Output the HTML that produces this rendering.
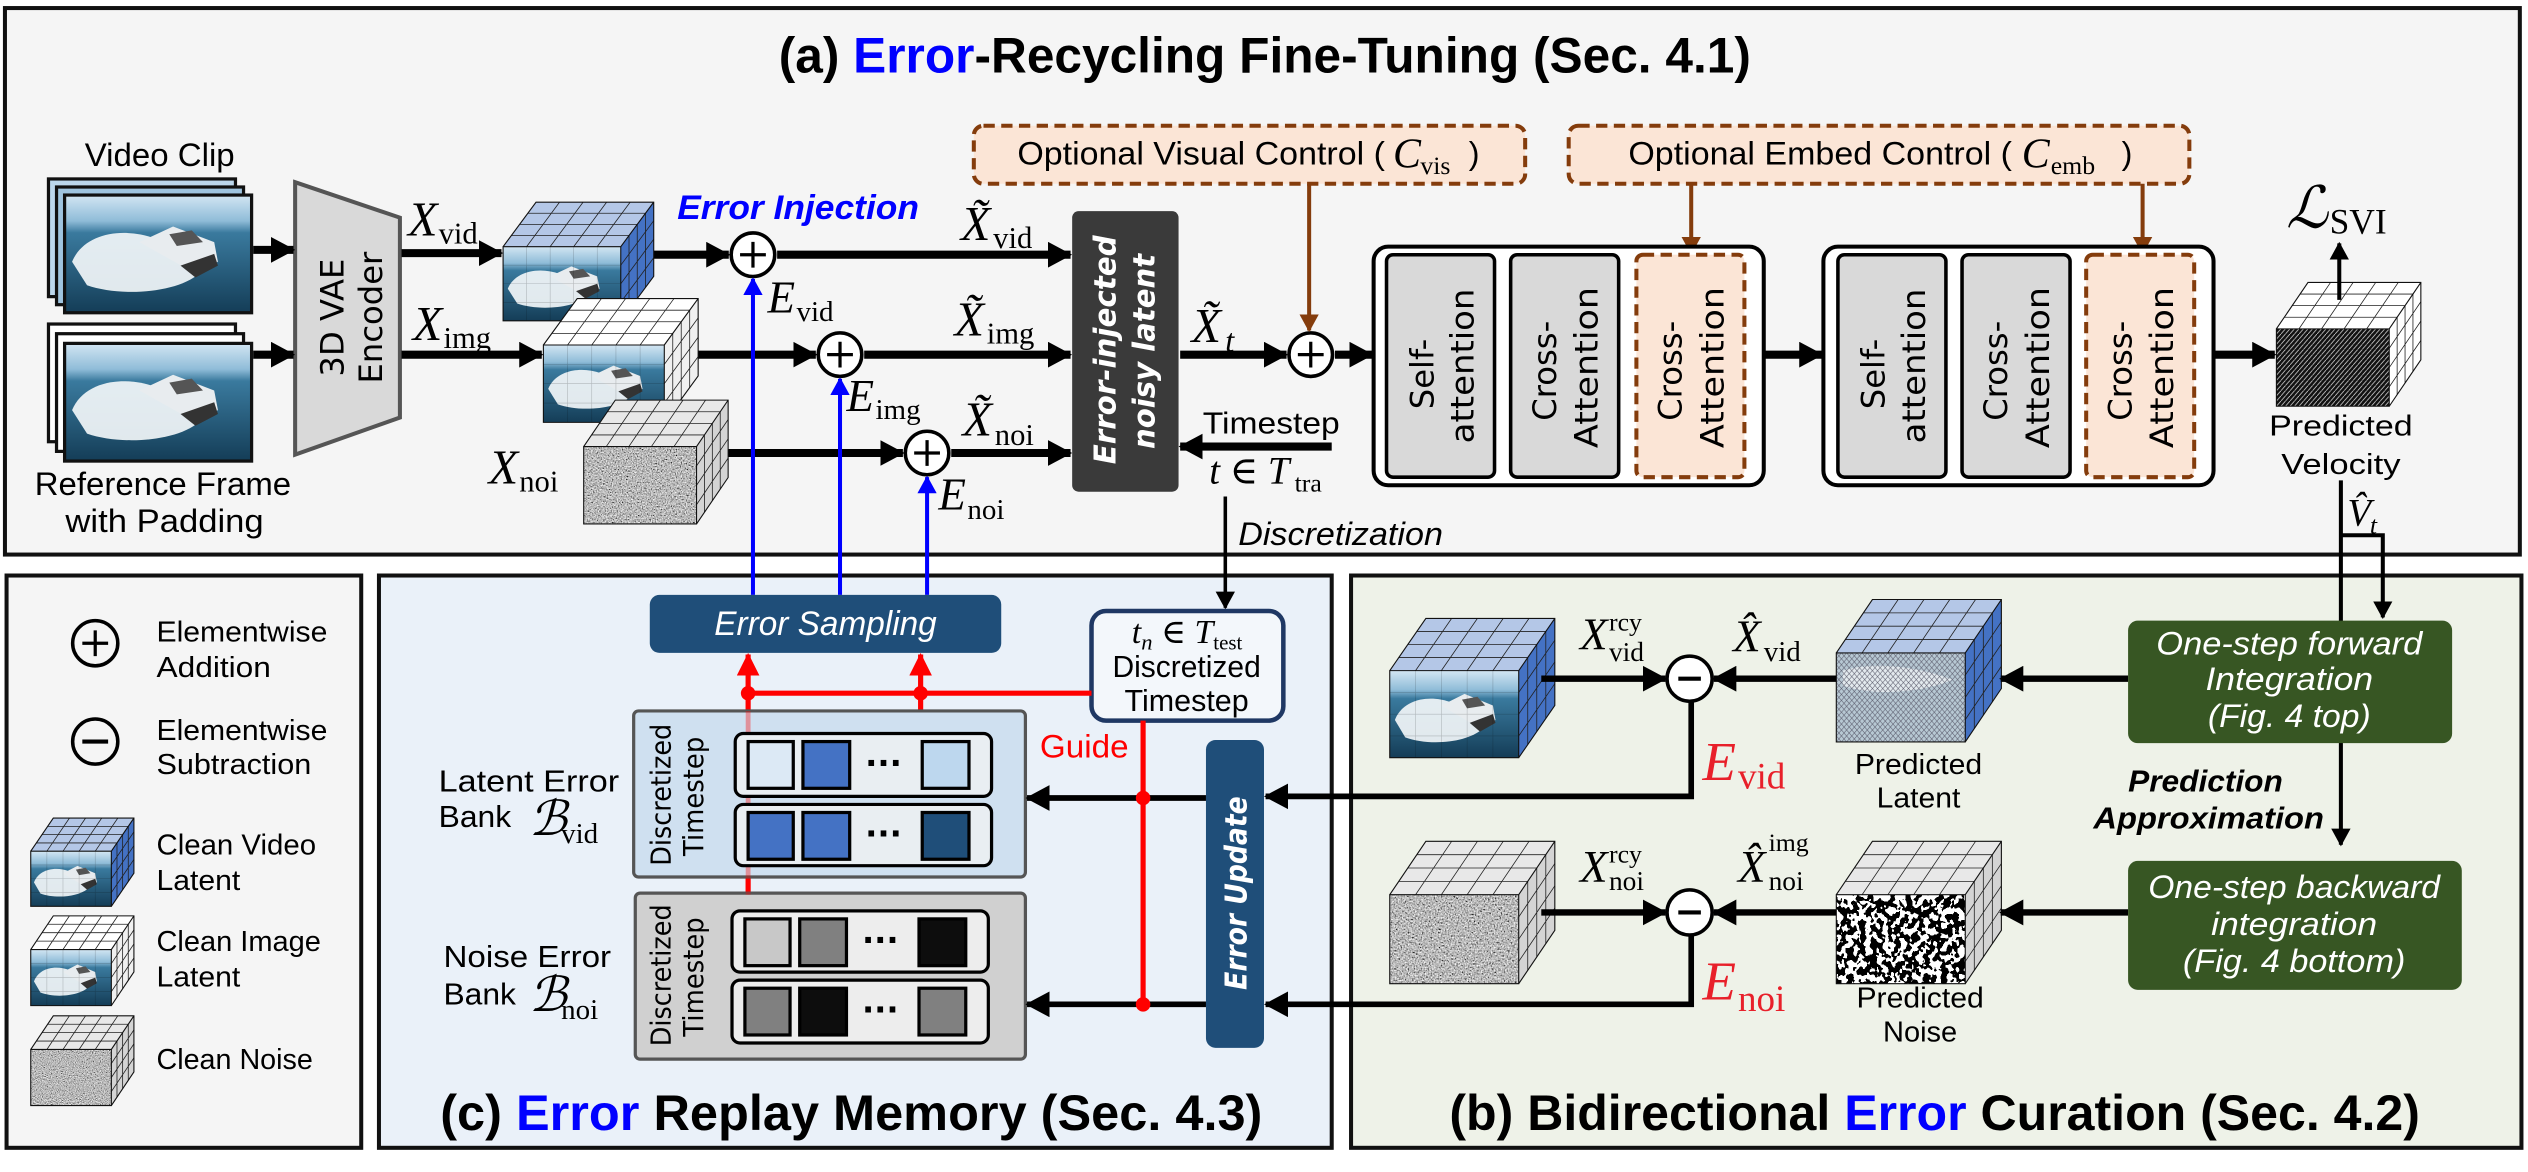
<!DOCTYPE html>
<html><head><meta charset="utf-8"><style>
html,body{margin:0;padding:0;background:#fff}
svg{display:block}
.n{font-family:"Liberation Sans Narrow","Liberation Sans",sans-serif}
.m{font-family:"Liberation Serif","DejaVu Serif",serif;font-style:italic}
.r{font-family:"Liberation Serif","DejaVu Serif",serif}
.d{font-family:"DejaVu Sans","Liberation Sans",sans-serif}
</style></head><body>
<svg width="2528" height="1172" viewBox="0 0 1568 727" xmlns="http://www.w3.org/2000/svg">
<defs>
<marker id="ab" markerUnits="userSpaceOnUse" markerWidth="15" markerHeight="16" refX="14" refY="8" orient="auto"><path d="M0,0 L15,8 L0,16 Z" fill="#000"/></marker>
<marker id="as" markerUnits="userSpaceOnUse" markerWidth="11" markerHeight="12" refX="10" refY="6" orient="auto"><path d="M0,0 L11,6 L0,12 Z" fill="#000"/></marker>
<marker id="abr" markerUnits="userSpaceOnUse" markerWidth="11" markerHeight="12" refX="10" refY="6" orient="auto"><path d="M0,0 L11,6 L0,12 Z" fill="#843c0c"/></marker>
<marker id="abl" markerUnits="userSpaceOnUse" markerWidth="11" markerHeight="12" refX="10" refY="6" orient="auto"><path d="M0,0 L11,6 L0,12 Z" fill="#0000ff"/></marker>
<marker id="ard" markerUnits="userSpaceOnUse" markerWidth="14" markerHeight="14" refX="13" refY="7" orient="auto"><path d="M0,0 L14,7 L0,14 Z" fill="#f00"/></marker>
<linearGradient id="sea" x1="0" y1="0" x2="0" y2="1">
<stop offset="0" stop-color="#d3e6f3"/><stop offset="0.22" stop-color="#8fbcd8"/><stop offset="0.32" stop-color="#3a7a9e"/><stop offset="1" stop-color="#143d57"/></linearGradient>
<symbol id="boat" viewBox="0 0 100 60" preserveAspectRatio="none">
<rect width="100" height="60" fill="url(#sea)"/>
<path d="M4,34 C10,20 30,16 48,22 L72,40 C60,50 30,52 12,46 Z" fill="#f2f6f8" opacity="0.92"/>
<path d="M40,24 L58,16 L80,24 L82,34 L70,40 Z" fill="#e8ecef"/>
<path d="M56,20 L68,18 L74,24 L60,26 Z" fill="#555"/>
<path d="M62,36 L80,30 L82,36 L70,42 Z" fill="#333"/>
</symbol>
<filter id="nz" x="0" y="0" width="1" height="1"><feTurbulence type="fractalNoise" baseFrequency="0.9" numOctaves="2" seed="4"/><feColorMatrix type="matrix" values="0.33 0.33 0.33 0 0 0.33 0.33 0.33 0 0 0.33 0.33 0.33 0 0 0 0 0 0 1"/><feComponentTransfer><feFuncR type="linear" slope="2.6" intercept="-0.8"/><feFuncG type="linear" slope="2.6" intercept="-0.8"/><feFuncB type="linear" slope="2.6" intercept="-0.8"/></feComponentTransfer></filter>
<filter id="bl" x="0" y="0" width="1" height="1"><feTurbulence type="fractalNoise" baseFrequency="0.22" numOctaves="2" seed="7"/><feColorMatrix type="matrix" values="0.33 0.33 0.33 0 0 0.33 0.33 0.33 0 0 0.33 0.33 0.33 0 0 0 0 0 0 1"/><feComponentTransfer><feFuncR type="discrete" tableValues="0 1"/><feFuncG type="discrete" tableValues="0 1"/><feFuncB type="discrete" tableValues="0 1"/></feComponentTransfer></filter>
<pattern id="hatch" patternUnits="userSpaceOnUse" width="4" height="4"><rect width="4" height="4" fill="#111"/><path d="M-1,5 L5,-1" stroke="#ddd" stroke-width="0.6"/></pattern>
<pattern id="xh" patternUnits="userSpaceOnUse" width="4" height="4"><path d="M0,0 L4,4 M4,0 L0,4" stroke="#556" stroke-width="0.4"/></pattern>
<g id="gts">
<path d="M20,0 L48,-36 M40,0 L68,-36 M60,0 L88,-36 M80,0 L108,-36 M7,-9 H107 M14,-18 H114 M21,-27 H121 M107,-9 V51 M114,-18 V42 M121,-27 V33 M100,15 L128,-21 M100,30 L128,-6 M100,45 L128,9" fill="none" stroke="#222" stroke-width="0.8" vector-effect="non-scaling-stroke"/>
<path d="M0,0 H100 V60 H0 Z M0,0 L28,-36 H128 V24 L100,60 M100,0 L128,-36" fill="none" stroke="#111" stroke-width="1.1" vector-effect="non-scaling-stroke"/>
</g>
<path id="gf" d="M20,0 V60 M40,0V60 M60,0V60 M80,0V60 M0,15H100 M0,30H100 M0,45H100" fill="none" stroke="rgba(0,0,0,0.22)" stroke-width="0.6" vector-effect="non-scaling-stroke"/>
<polygon id="ctop" points="0,0 100,0 128,-36 28,-36"/>
<polygon id="cside" points="100,0 128,-36 128,24 100,60"/>
</defs>

<rect width="1568" height="727" fill="#fff"/>
<rect x="3" y="5" width="1560" height="339" fill="#f5f5f5" stroke="#111" stroke-width="2.5"/>
<rect x="4" y="357" width="220" height="355" fill="#f5f5f5" stroke="#111" stroke-width="2.5"/>
<rect x="235" y="357" width="591" height="355" fill="#eaf1f9" stroke="#111" stroke-width="2.5"/>
<rect x="838" y="357" width="726" height="355" fill="#eef2e8" stroke="#111" stroke-width="2.5"/>

<text x="483" y="45" font-size="31" font-weight="bold" class="n" textLength="603" lengthAdjust="spacingAndGlyphs">(a) <tspan fill="#0000ff">Error</tspan>-Recycling Fine-Tuning (Sec. 4.1)</text>

<text x="99" y="103" font-size="20" class="n" text-anchor="middle" textLength="93" lengthAdjust="spacingAndGlyphs">Video Clip</text>
<rect x="30" y="111" width="116" height="73" fill="#bcd7ec" stroke="#111" stroke-width="2"/>
<rect x="35" y="116" width="116" height="73" fill="#9fc4df" stroke="#111" stroke-width="2"/>
<use href="#boat" x="40" y="121" width="116" height="73"/>
<rect x="40" y="121" width="116" height="73" fill="none" stroke="#111" stroke-width="2"/>
<rect x="30" y="201" width="116" height="73" fill="#fff" stroke="#111" stroke-width="2"/>
<rect x="35" y="207" width="116" height="73" fill="#fff" stroke="#111" stroke-width="2"/>
<use href="#boat" x="40" y="213" width="116" height="73"/>
<rect x="40" y="213" width="116" height="73" fill="none" stroke="#111" stroke-width="2"/>
<text x="101" y="307" font-size="20" class="n" text-anchor="middle" textLength="159" lengthAdjust="spacingAndGlyphs">Reference Frame</text>
<text x="102" y="330" font-size="20" class="n" text-anchor="middle" textLength="123" lengthAdjust="spacingAndGlyphs">with Padding</text>

<polygon points="183,113 248,135 248,259 183,282" fill="#d9d9d9" stroke="#555" stroke-width="2.5"/>
<text transform="translate(213,197) rotate(-90)" font-size="20" class="d" text-anchor="middle">3D VAE</text>
<text transform="translate(237,197) rotate(-90)" font-size="20" class="d" text-anchor="middle">Encoder</text>

<g stroke="#000" stroke-width="5" fill="none">
<path d="M157,155 H182" marker-end="url(#ab)"/>
<path d="M157,220 H182" marker-end="url(#ab)"/>
<path d="M249,157 H311" marker-end="url(#ab)"/>
<path d="M249,220 H336" marker-end="url(#ab)"/>
<path d="M388,158 H452" marker-end="url(#ab)"/>
<path d="M482,158 H664" marker-end="url(#ab)"/>
<path d="M418,220 H506" marker-end="url(#ab)"/>
<path d="M536,220 H664" marker-end="url(#ab)"/>
<path d="M442,281 H560" marker-end="url(#ab)"/>
<path d="M590,281 H664" marker-end="url(#ab)"/>
<path d="M732,220 H798" marker-end="url(#ab)"/>
<path d="M828,220 H851" marker-end="url(#ab)"/>
<path d="M826,277 H732" marker-end="url(#ab)"/>
<path d="M1095,220 H1130" marker-end="url(#ab)"/>
<path d="M1374,220 H1411" marker-end="url(#ab)"/>
</g>

<g transform="translate(312,153) scale(0.73,0.767)">
<use href="#ctop" fill="#b4c7e7"/><use href="#cside" fill="#4472c4"/>
<use href="#boat" x="0" y="0" width="100" height="60"/><use href="#gf"/><use href="#gts"/></g>
<g transform="translate(337,214) scale(0.75,0.8)">
<use href="#ctop" fill="#fff"/><use href="#cside" fill="#f0f0f0"/>
<use href="#boat" x="0" y="0" width="100" height="60"/><use href="#gf"/><use href="#gts"/></g>
<g transform="translate(362,277) scale(0.7,0.8)">
<use href="#ctop" fill="#e8e8e8"/><use href="#cside" fill="#d4d4d4"/>
<rect width="100" height="60" filter="url(#nz)"/><use href="#gts"/></g>

<text x="420" y="136" font-size="21" font-weight="bold" font-style="italic" fill="#0000ff" class="n" textLength="150" lengthAdjust="spacingAndGlyphs">Error Injection</text>
<text x="253" y="146" font-size="30" class="m">X</text><text x="272" y="151" font-size="19" class="r">vid</text>
<text x="256" y="211" font-size="30" class="m">X</text><text x="275" y="216" font-size="19" class="r">img</text>
<text x="303" y="300" font-size="30" class="m">X</text><text x="322" y="305" font-size="19" class="r">noi</text>
<text x="476" y="194" font-size="28" class="m">E</text><text x="494" y="199" font-size="18" class="r">vid</text>
<text x="525" y="255" font-size="28" class="m">E</text><text x="543" y="260" font-size="18" class="r">img</text>
<text x="582" y="316" font-size="28" class="m">E</text><text x="600" y="322" font-size="18" class="r">noi</text>
<text x="596" y="149" font-size="30" class="m">X̃</text><text x="616" y="154" font-size="19" class="r">vid</text>
<text x="592" y="208" font-size="30" class="m">X̃</text><text x="612" y="213" font-size="19" class="r">img</text>
<text x="597" y="270" font-size="30" class="m">X̃</text><text x="617" y="276" font-size="19" class="r">noi</text>
<text x="739" y="212" font-size="30" class="m">X̃</text><text x="760" y="218" font-size="20" class="m">t</text>
<text x="746" y="269" font-size="19" class="n" textLength="85" lengthAdjust="spacingAndGlyphs">Timestep</text>
<text x="750" y="300" font-size="24" class="m">t <tspan class="r" font-style="normal">∈</tspan> <tspan>T</tspan></text><text x="803" y="305" font-size="16" class="r">tra</text>
<text x="768" y="338" font-size="20" font-style="italic" class="n" textLength="127" lengthAdjust="spacingAndGlyphs">Discretization</text>

<g fill="#fff" stroke="#000" stroke-width="2.2">
<circle cx="467" cy="158" r="13.5"/><circle cx="521" cy="220" r="13.5"/><circle cx="575" cy="281" r="13.5"/><circle cx="813" cy="220" r="13.5"/>
</g>
<g stroke="#000" stroke-width="2">
<path d="M459,158 H475 M467,150 V166"/><path d="M513,220 H529 M521,212 V228"/><path d="M567,281 H583 M575,273 V289"/><path d="M805,220 H821 M813,212 V228"/>
</g>

<rect x="665" y="131" width="66" height="174" rx="4" fill="#3a3a3a"/>
<text transform="translate(692,217) rotate(-90)" font-size="19" font-weight="bold" font-style="italic" fill="#fff" class="d" text-anchor="middle" textLength="142" lengthAdjust="spacingAndGlyphs">Error-injected</text>
<text transform="translate(716,218) rotate(-90)" font-size="19" font-weight="bold" font-style="italic" fill="#fff" class="d" text-anchor="middle" textLength="121" lengthAdjust="spacingAndGlyphs">noisy latent</text>

<rect x="604" y="78" width="342" height="36" rx="6" fill="#fbe5d6" stroke="#843c0c" stroke-width="2.5" stroke-dasharray="7,4"/>
<text x="631" y="102" font-size="20" class="n" textLength="228" lengthAdjust="spacingAndGlyphs">Optional Visual Control (</text>
<text x="864" y="104" font-size="26" class="m">C</text><text x="881" y="108" font-size="16" class="r">vis</text><text x="911" y="102" font-size="20" class="n">)</text>
<rect x="973" y="78" width="385" height="36" rx="6" fill="#fbe5d6" stroke="#843c0c" stroke-width="2.5" stroke-dasharray="7,4"/>
<text x="1010" y="102" font-size="20" class="n" textLength="238" lengthAdjust="spacingAndGlyphs">Optional Embed Control (</text>
<text x="1254" y="104" font-size="26" class="m">C</text><text x="1272" y="108" font-size="16" class="r">emb</text><text x="1316" y="102" font-size="20" class="n">)</text>
<g stroke="#843c0c" stroke-width="2.5" fill="none">
<path d="M812,114 V205" marker-end="url(#abr)"/>
<path d="M1049,114 V157" marker-end="url(#abr)"/>
<path d="M1329,114 V157" marker-end="url(#abr)"/>
</g>

<g>
<rect x="852" y="153" width="242" height="148" rx="9" fill="#fff" stroke="#000" stroke-width="2.5"/>
<rect x="860" y="158" width="67" height="138" rx="4" fill="#d9d9d9" stroke="#000" stroke-width="2.2"/>
<rect x="937" y="158" width="67" height="138" rx="4" fill="#d9d9d9" stroke="#000" stroke-width="2.2"/>
<rect x="1015" y="158" width="67" height="138" rx="4" fill="#fbe5d6" stroke="#843c0c" stroke-width="2.5" stroke-dasharray="7,4"/>
<rect x="1131" y="153" width="242" height="148" rx="9" fill="#fff" stroke="#000" stroke-width="2.5"/>
<rect x="1140" y="158" width="67" height="138" rx="4" fill="#d9d9d9" stroke="#000" stroke-width="2.2"/>
<rect x="1217" y="158" width="67" height="138" rx="4" fill="#d9d9d9" stroke="#000" stroke-width="2.2"/>
<rect x="1294" y="158" width="67" height="138" rx="4" fill="#fbe5d6" stroke="#843c0c" stroke-width="2.5" stroke-dasharray="7,4"/>
</g>
<g font-size="20" class="d" text-anchor="middle">
<text transform="translate(889,232) rotate(-90)">Self-</text>
<text transform="translate(914,227) rotate(-90)" textLength="96" lengthAdjust="spacingAndGlyphs">attention</text>
<text transform="translate(965,230) rotate(-90)">Cross-</text>
<text transform="translate(991,228) rotate(-90)" textLength="100" lengthAdjust="spacingAndGlyphs">Attention</text>
<text transform="translate(1043,230) rotate(-90)">Cross-</text>
<text transform="translate(1069,228) rotate(-90)" textLength="100" lengthAdjust="spacingAndGlyphs">Attention</text>
<text transform="translate(1169,232) rotate(-90)">Self-</text>
<text transform="translate(1194,227) rotate(-90)" textLength="96" lengthAdjust="spacingAndGlyphs">attention</text>
<text transform="translate(1245,230) rotate(-90)">Cross-</text>
<text transform="translate(1271,228) rotate(-90)" textLength="100" lengthAdjust="spacingAndGlyphs">Attention</text>
<text transform="translate(1322,230) rotate(-90)">Cross-</text>
<text transform="translate(1348,228) rotate(-90)" textLength="100" lengthAdjust="spacingAndGlyphs">Attention</text>
</g>

<g transform="translate(1412,204) scale(0.7,0.8)">
<use href="#ctop" fill="#fff"/><use href="#cside" fill="#fff"/>
<rect width="100" height="60" fill="url(#hatch)"/><use href="#gts"/></g>
<path d="M1451,186 V151" stroke="#000" stroke-width="2.5" marker-end="url(#as)"/>
<text x="1418" y="141" font-size="36" class="m">ℒ</text><text x="1445" y="145" font-size="22" class="r">SVI</text>
<text x="1452" y="270" font-size="18" class="n" text-anchor="middle" textLength="89" lengthAdjust="spacingAndGlyphs">Predicted</text>
<text x="1452" y="294" font-size="18" class="n" text-anchor="middle" textLength="74" lengthAdjust="spacingAndGlyphs">Velocity</text>
<text x="1456" y="326" font-size="24" class="m">V̂</text><text x="1470" y="331" font-size="16" class="m">t</text>

<path d="M1452,298 V524" stroke="#000" stroke-width="2.5" fill="none" marker-end="url(#as)"/>
<path d="M1452,332 H1478 V383" stroke="#000" stroke-width="2.5" fill="none" marker-end="url(#as)"/>

<circle cx="59" cy="399" r="14" fill="none" stroke="#000" stroke-width="2.2"/><path d="M51,399 H67 M59,391 V407" stroke="#000" stroke-width="2"/>
<circle cx="59" cy="460" r="14" fill="none" stroke="#000" stroke-width="2.2"/><path d="M51,460 H67" stroke="#000" stroke-width="2.5"/>
<g font-size="18" class="n" lengthAdjust="spacingAndGlyphs">
<text x="97" y="398" textLength="106" lengthAdjust="spacingAndGlyphs">Elementwise</text><text x="97" y="420" textLength="71" lengthAdjust="spacingAndGlyphs">Addition</text>
<text x="97" y="459" textLength="106" lengthAdjust="spacingAndGlyphs">Elementwise</text><text x="97" y="480" textLength="96" lengthAdjust="spacingAndGlyphs">Subtraction</text>
<text x="97" y="530" textLength="99" lengthAdjust="spacingAndGlyphs">Clean Video</text><text x="97" y="552" textLength="52" lengthAdjust="spacingAndGlyphs">Latent</text>
<text x="97" y="590" textLength="102" lengthAdjust="spacingAndGlyphs">Clean Image</text><text x="97" y="612" textLength="52" lengthAdjust="spacingAndGlyphs">Latent</text>
<text x="97" y="663" textLength="97" lengthAdjust="spacingAndGlyphs">Clean Noise</text>
</g>
<g transform="translate(19,528) scale(0.5,0.57)">
<use href="#ctop" fill="#b4c7e7"/><use href="#cside" fill="#4472c4"/>
<use href="#boat" x="0" y="0" width="100" height="60"/><use href="#gf"/><use href="#gts"/></g>
<g transform="translate(19,589) scale(0.5,0.58)">
<use href="#ctop" fill="#fff"/><use href="#cside" fill="#f0f0f0"/>
<use href="#boat" x="0" y="0" width="100" height="60"/><use href="#gf"/><use href="#gts"/></g>
<g transform="translate(19,651) scale(0.5,0.58)">
<use href="#ctop" fill="#e8e8e8"/><use href="#cside" fill="#d4d4d4"/>
<rect width="100" height="60" filter="url(#nz)"/><use href="#gts"/></g>

<g stroke="#0000ff" stroke-width="2.5" fill="none">
<path d="M467,369 V173" marker-end="url(#abl)"/>
<path d="M521,369 V235" marker-end="url(#abl)"/>
<path d="M575,369 V296" marker-end="url(#abl)"/>
</g>
<rect x="403" y="369" width="218" height="36" rx="6" fill="#1f4e79"/>
<text x="512" y="394" font-size="21" font-style="italic" fill="#fff" class="n" text-anchor="middle" textLength="138" lengthAdjust="spacingAndGlyphs">Error Sampling</text>
<path d="M760,308 V377" stroke="#000" stroke-width="2.2" marker-end="url(#as)"/>
<rect x="677" y="379" width="119" height="68" rx="9" fill="#f3f7fb" stroke="#1f3864" stroke-width="2.8"/>
<text x="702" y="399" font-size="21" class="m">t<tspan font-size="14" dy="4">n</tspan><tspan dy="-4" class="r" font-style="normal"> ∈ </tspan>T<tspan font-size="13" dy="4" class="r" font-style="normal">test</tspan></text>
<text x="736" y="420" font-size="19" class="n" text-anchor="middle" textLength="92" lengthAdjust="spacingAndGlyphs">Discretized</text>
<text x="736" y="441" font-size="19" class="n" text-anchor="middle" textLength="77" lengthAdjust="spacingAndGlyphs">Timestep</text>

<g stroke="#f00" stroke-width="3.2" fill="none">
<path d="M677,430 H464"/>
<path d="M464,555 V406" marker-end="url(#ard)"/>
<path d="M571,441 V406" marker-end="url(#ard)"/>
<path d="M709,447 V623"/>
</g>

<rect x="393" y="441" width="243" height="103" rx="3" fill="#cfe0f0" stroke="#555" stroke-width="2"/>
<rect x="394" y="554" width="242" height="103" rx="3" fill="#d0d0d0" stroke="#555" stroke-width="2"/>
<path d="M464,441 V555" stroke="#f00" stroke-width="3" opacity="0.35"/>
<g font-size="17" class="d" text-anchor="middle">
<text transform="translate(416,493) rotate(-90)" textLength="88" lengthAdjust="spacingAndGlyphs">Discretized</text>
<text transform="translate(436,494) rotate(-90)" textLength="74" lengthAdjust="spacingAndGlyphs">Timestep</text>
<text transform="translate(416,605) rotate(-90)" textLength="88" lengthAdjust="spacingAndGlyphs">Discretized</text>
<text transform="translate(436,606) rotate(-90)" textLength="74" lengthAdjust="spacingAndGlyphs">Timestep</text>
</g>
<g stroke="#000" stroke-width="2">
<rect x="456" y="455" width="159" height="39" rx="5" fill="#e9eef2"/>
<rect x="456" y="499" width="159" height="38" rx="5" fill="#e9eef2"/>
<rect x="464" y="460" width="28" height="29" fill="#dce9f5"/><rect x="498" y="460" width="29" height="29" fill="#4472c4"/><rect x="572" y="460" width="29" height="29" fill="#bdd7ee"/>
<rect x="464" y="504" width="28" height="29" fill="#4472c4"/><rect x="498" y="504" width="29" height="29" fill="#4472c4"/><rect x="572" y="504" width="29" height="29" fill="#1f4e79"/>
<rect x="454" y="565" width="159" height="38" rx="5" fill="#ededed"/>
<rect x="454" y="608" width="159" height="39" rx="5" fill="#ededed"/>
<rect x="462" y="570" width="28" height="29" fill="#c8c8c8"/><rect x="496" y="570" width="29" height="29" fill="#808080"/><rect x="570" y="570" width="29" height="29" fill="#0d0d0d"/>
<rect x="462" y="613" width="28" height="29" fill="#808080"/><rect x="496" y="613" width="29" height="29" fill="#0d0d0d"/><rect x="570" y="613" width="29" height="29" fill="#808080"/>
</g>
<g font-size="20" font-weight="bold" text-anchor="middle" class="d">
<text x="548" y="480">···</text><text x="548" y="524">···</text><text x="546" y="590">···</text><text x="546" y="633">···</text>
</g>
<g font-size="19" class="n">
<text x="272" y="491" textLength="112" lengthAdjust="spacingAndGlyphs">Latent Error</text><text x="272" y="513" textLength="45" lengthAdjust="spacingAndGlyphs">Bank</text>
<text x="275" y="600" textLength="104" lengthAdjust="spacingAndGlyphs">Noise Error</text><text x="275" y="623" textLength="45" lengthAdjust="spacingAndGlyphs">Bank</text>
</g>
<text x="328" y="518" font-size="30" class="m">ℬ</text><text x="348" y="523" font-size="18" class="r">vid</text>
<text x="328" y="627" font-size="30" class="m">ℬ</text><text x="348" y="632" font-size="18" class="r">noi</text>
<text x="645" y="470" font-size="20" fill="#f00" class="n" textLength="55" lengthAdjust="spacingAndGlyphs">Guide</text>

<rect x="748" y="459" width="36" height="191" rx="6" fill="#1f4e79"/>
<text transform="translate(773,554) rotate(-90)" font-size="19" font-weight="bold" font-style="italic" fill="#fff" class="d" text-anchor="middle" textLength="120" lengthAdjust="spacingAndGlyphs">Error Update</text>

<g stroke="#000" stroke-width="3.5" fill="none">
<path d="M748,495 H637" marker-end="url(#ab)"/>
<path d="M748,623 H637" marker-end="url(#ab)"/>
<path d="M1049,435 V494 H785" marker-end="url(#ab)"/>
<path d="M1049,580 V623 H785" marker-end="url(#ab)"/>
</g>
<g fill="#f00"><circle cx="464" cy="430" r="4.5"/><circle cx="571" cy="430" r="4.5"/><circle cx="709" cy="495" r="4.5"/><circle cx="709" cy="623" r="4.5"/></g>

<text x="273" y="701" font-size="31" font-weight="bold" class="n" textLength="510" lengthAdjust="spacingAndGlyphs">(c) <tspan fill="#0000ff">Error</tspan> Replay Memory (Sec. 4.3)</text>

<g transform="translate(862,416) scale(0.8,0.9)">
<use href="#ctop" fill="#b4c7e7"/><use href="#cside" fill="#4472c4"/>
<use href="#boat" x="0" y="0" width="100" height="60"/><use href="#gf"/><use href="#gts"/></g>
<g transform="translate(862,555) scale(0.8,0.92)">
<use href="#ctop" fill="#e8e8e8"/><use href="#cside" fill="#d4d4d4"/>
<rect width="100" height="60" filter="url(#nz)"/><use href="#gts"/></g>
<g transform="translate(1139,405) scale(0.8,0.92)">
<use href="#ctop" fill="#b4c7e7"/><use href="#cside" fill="#4472c4"/>
<rect width="100" height="60" fill="#b7c8d3"/><path d="M5,12 C25,6 60,8 90,18 C70,26 30,30 5,22 Z" fill="#eef2f5" opacity="0.8"/><rect width="100" height="60" fill="url(#xh)"/><use href="#gts"/></g>
<g transform="translate(1139,555) scale(0.8,0.92)">
<use href="#ctop" fill="#e8e8e8"/><use href="#cside" fill="#d4d4d4"/>
<rect width="100" height="60" filter="url(#bl)"/><use href="#gts"/></g>

<g stroke="#000" stroke-width="4" fill="none">
<path d="M956,421 H1033" marker-end="url(#ab)"/>
<path d="M1139,421 H1063" marker-end="url(#ab)"/>
<path d="M1320,421 H1241" marker-end="url(#ab)"/>
<path d="M956,566 H1033" marker-end="url(#ab)"/>
<path d="M1139,566 H1063" marker-end="url(#ab)"/>
<path d="M1320,566 H1241" marker-end="url(#ab)"/>
</g>
<circle cx="1048" cy="421" r="14" fill="#fff" stroke="#000" stroke-width="2.2"/><path d="M1041,421 H1055" stroke="#000" stroke-width="2.5"/>
<circle cx="1048" cy="566" r="14" fill="#fff" stroke="#000" stroke-width="2.2"/><path d="M1041,566 H1055" stroke="#000" stroke-width="2.5"/>

<text x="980" y="403" font-size="28" class="m">X</text><text x="998" y="391" font-size="16" class="r">rcy</text><text x="998" y="410" font-size="17" class="r">vid</text>
<text x="1075" y="404" font-size="28" class="m">X̂</text><text x="1094" y="410" font-size="18" class="r">vid</text>
<text x="980" y="547" font-size="28" class="m">X</text><text x="998" y="535" font-size="16" class="r">rcy</text><text x="998" y="552" font-size="17" class="r">noi</text>
<text x="1078" y="547" font-size="28" class="m">X̂</text><text x="1097" y="528" font-size="16" class="r">img</text><text x="1097" y="552" font-size="17" class="r">noi</text>
<text x="1056" y="484" font-size="34" class="m" fill="#e8202a">E</text><text x="1078" y="489" font-size="23" class="r" fill="#e8202a">vid</text>
<text x="1056" y="620" font-size="34" class="m" fill="#e8202a">E</text><text x="1078" y="627" font-size="23" class="r" fill="#e8202a">noi</text>
<g font-size="18" class="n" text-anchor="middle">
<text x="1190" y="480" textLength="79" lengthAdjust="spacingAndGlyphs">Predicted</text><text x="1190" y="501" textLength="52" lengthAdjust="spacingAndGlyphs">Latent</text>
<text x="1191" y="625" textLength="79" lengthAdjust="spacingAndGlyphs">Predicted</text><text x="1191" y="646" textLength="46" lengthAdjust="spacingAndGlyphs">Noise</text>
</g>

<rect x="1320" y="385" width="201" height="76" rx="6" fill="#375623"/>
<rect x="1320" y="534" width="207" height="80" rx="6" fill="#375623"/>
<g font-size="20" font-style="italic" fill="#fff" class="n" text-anchor="middle">
<text x="1420" y="406" textLength="165" lengthAdjust="spacingAndGlyphs">One-step forward</text><text x="1420" y="428" textLength="104" lengthAdjust="spacingAndGlyphs">Integration</text><text x="1420" y="451" textLength="101" lengthAdjust="spacingAndGlyphs">(Fig. 4 top)</text>
<text x="1423" y="557" textLength="181" lengthAdjust="spacingAndGlyphs">One-step backward</text><text x="1423" y="580" textLength="103" lengthAdjust="spacingAndGlyphs">integration</text><text x="1423" y="603" textLength="138" lengthAdjust="spacingAndGlyphs">(Fig. 4 bottom)</text>
</g>
<g font-size="19" font-weight="bold" font-style="italic" class="n" text-anchor="middle">
<text x="1368" y="491" textLength="96" lengthAdjust="spacingAndGlyphs">Prediction</text><text x="1370" y="514" textLength="143" lengthAdjust="spacingAndGlyphs">Approximation</text>
</g>

<text x="899" y="701" font-size="31" font-weight="bold" class="n" textLength="602" lengthAdjust="spacingAndGlyphs">(b) Bidirectional <tspan fill="#0000ff">Error</tspan> Curation (Sec. 4.2)</text>
</svg>
</body></html>
